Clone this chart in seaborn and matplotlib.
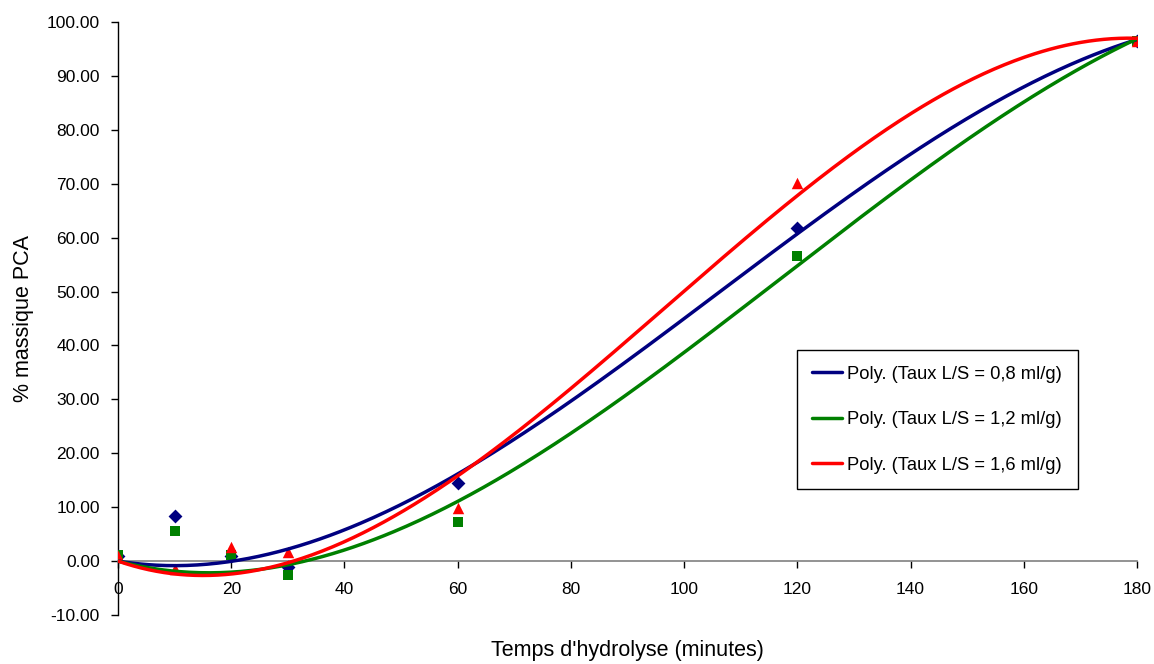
import numpy as np
import pandas as pd
import matplotlib
matplotlib.use("Agg")
import matplotlib.pyplot as plt
import seaborn as sns

# Data
temps = [0, 10, 20, 30, 60, 120, 180]
taux_08 = [1.0, 8.4, 1.0, -1.1, 14.5, 61.8, 96.5]
taux_12 = [1.2, 5.6, 1.1, -2.6, 7.3, 56.6, 96.5]
taux_16 = [1.0, -1.4, 2.6, 1.7, 9.8, 70.1, 96.5]
labels = ["Poly. (Taux L/S = 0,8 ml/g)", "Poly. (Taux L/S = 1,2 ml/g)", "Poly. (Taux L/S = 1,6 ml/g)"]
colors = ["#000080", "#008000", "#FF0000"]
markers = ["D", "s", "^"]
msizes = [50, 55, 68]

sns.set_theme(style="white")
plt.rcParams['font.family'] = ['Liberation Sans', 'DejaVu Sans']
plt.rcParams['text.color'] = 'black'
plt.rcParams['axes.labelcolor'] = 'black'
plt.rcParams['xtick.color'] = 'black'
plt.rcParams['ytick.color'] = 'black'

fig = plt.figure(figsize=(11.54, 6.64), dpi=100)
ax = fig.add_axes([0.1023, 0.0738, 0.8830, 0.8931])

series = [taux_08, taux_12, taux_16]
for vals, c, m, s in zip(series, colors, markers, msizes):
    df = pd.DataFrame({"x": temps, "y": vals})
    sns.scatterplot(data=df, x="x", y="y", marker=m, color=c, s=s, edgecolor=c,
                    linewidth=0, ax=ax, zorder=3, legend=False)

# Polynomial trendlines (order 3, intercept fixed at 0)
t = np.asarray(temps, dtype=float)
A = np.column_stack([t, t**2, t**3])
xs = np.linspace(0, 180, 400)
for vals, c, lab in zip(series, colors, labels):
    coef, *_ = np.linalg.lstsq(A, np.asarray(vals, dtype=float), rcond=None)
    ys = coef[0] * xs + coef[1] * xs**2 + coef[2] * xs**3
    df = pd.DataFrame({"x": xs, "y": ys})
    sns.lineplot(data=df, x="x", y="y", color=c, linewidth=2.5, ax=ax, label=lab, zorder=4)

ax.set_xlim(0, 180)
ax.set_ylim(-10, 100)
ax.set_xticks(np.arange(0, 181, 20))
ax.set_yticks(np.arange(-10, 101, 10))
ax.set_yticklabels([f"{v:.2f}" for v in np.arange(-10, 101, 10)])
ax.spines['top'].set_visible(False)
ax.spines['right'].set_visible(False)
ax.spines['bottom'].set_position(('data', 0))
ax.spines['bottom'].set_color('#808080')
ax.spines['bottom'].set_linewidth(1.2)
ax.spines['left'].set_color('#000000')
ax.spines['left'].set_linewidth(1.0)
ax.tick_params(axis='both', direction='out', length=5, width=1, color='#000000',
               labelsize=12.5, bottom=True, left=True)
ax.tick_params(axis='x', pad=10)
ax.tick_params(axis='y', pad=8)
ax.set_xlabel("Temps d'hydrolyse (minutes)", fontsize=15.5)
ax.set_ylabel("% massique PCA", fontsize=15.5)
ax.xaxis.set_label_coords(0.5, -0.042)
ax.yaxis.set_label_coords(-0.082, 0.5)
ax.xaxis.label.set_va('top')

leg = ax.legend(loc='upper left', bbox_to_anchor=(0.666, 0.447), frameon=True, fancybox=False,
                fontsize=13.2, handlelength=1.6, labelspacing=1.56, borderpad=0.85,
                handletextpad=0.3, borderaxespad=0)
leg.get_frame().set_edgecolor('#000000')
leg.get_frame().set_linewidth(1.0)
leg.get_frame().set_alpha(1)

fig.savefig("out.png", dpi=100)
